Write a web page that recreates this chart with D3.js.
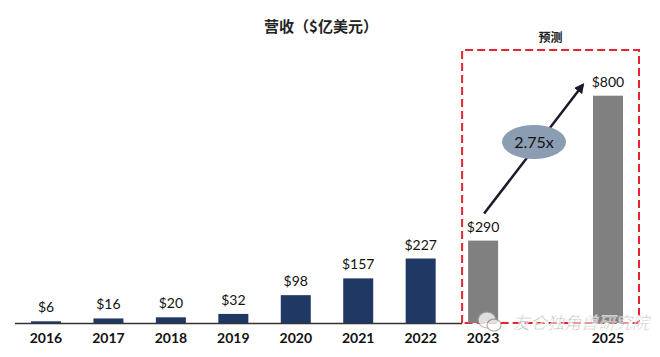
<!DOCTYPE html>
<html><head><meta charset="utf-8">
<script src="https://cdn.jsdelivr.net/npm/d3@7"></script>
<style>body{margin:0;background:#fff}svg{display:block}</style>
</head><body>
<svg id="c" width="660" height="357"></svg>
<script>
const years = [2016, 2017, 2018, 2019, 2020, 2021, 2022, 2023, 2025];
const revenue = [6, 16, 20, 32, 98, 157, 227, 290, 800];
const forecast = [false, false, false, false, false, false, false, true, true];
const valueLabels = ["$6", "$16", "$20", "$32", "$98", "$157", "$227", "$290", "$800"];
const title = "营收（$亿美元）";
const forecastLabel = "预测";
const multipleLabel = "2.75x";
const watermark = "友仑独角兽研究院";

const svg = d3.select("#c");
const x = d3.scaleLinear().domain([2016, 2025]).range([46, 608]);
const y = d3.scaleLinear().domain([0, 800]).range([323, 95.7]);
const bw = 30;
const latin = "Lato, 'Noto Sans', sans-serif";
const cjk = "'Noto Sans CJK SC', sans-serif";

svg.append("text").attr("x", 321).attr("y", 32).attr("text-anchor", "middle")
  .attr("font-family", cjk).attr("font-weight", 700).attr("font-size", 15).attr("fill", "#222").text(title);

// forecast box
const bx0 = x(2023) - 21, bx1 = x(2025) + 31;
svg.append("path")
  .attr("d", `M${bx0},${y(0)} L${bx0},50 L${bx1},50 L${bx1},${y(0)-3} Q${bx1},${y(0)} ${bx1-3},${y(0)} Z`)
  .attr("fill", "none").attr("stroke", "#e3262d").attr("stroke-width", 2).attr("stroke-dasharray", "8,4");
svg.append("text").attr("x", (bx0 + bx1) / 2).attr("y", 42).attr("text-anchor", "middle")
  .attr("font-family", cjk).attr("font-weight", 700).attr("font-size", 12).attr("fill", "#222").text(forecastLabel);

// axis line
svg.append("line").attr("x1", 15).attr("x2", bx0).attr("y1", y(0) + 0.5).attr("y2", y(0) + 0.5)
  .attr("stroke", "#333").attr("stroke-width", 1.5);

// bars
svg.selectAll("rect.bar").data(years).join("rect").attr("class", "bar")
  .attr("x", (d) => x(d) - bw / 2).attr("width", bw)
  .attr("y", (d, i) => y(revenue[i])).attr("height", (d, i) => y(0) - y(revenue[i]))
  .attr("fill", (d, i) => forecast[i] ? "#808080" : "#1f3864");

svg.selectAll("text.val").data(years).join("text").attr("class", "val")
  .attr("x", (d) => x(d)).attr("y", (d, i) => y(revenue[i]) - 9)
  .attr("text-anchor", "middle").attr("font-family", latin).attr("font-size", 14).attr("fill", "#111")
  .text((d, i) => valueLabels[i]);

svg.selectAll("text.yr").data(years).join("text").attr("class", "yr")
  .attr("x", (d) => x(d)).attr("y", 343)
  .attr("text-anchor", "middle").attr("font-family", latin).attr("font-weight", 700).attr("font-size", 14).attr("fill", "#111")
  .text((d) => d);

// arrow
const defs = svg.append("defs");
defs.append("marker").attr("id", "ah").attr("viewBox", "0 0 10 10").attr("refX", 8).attr("refY", 5)
  .attr("markerWidth", 4).attr("markerHeight", 4).attr("orient", "auto")
  .append("path").attr("d", "M0,0 L10,5 L0,10 Z").attr("fill", "#1a1a2a");
const ax0 = x(2023) + 1, ay0 = y(revenue[7]) - 27, ax1 = x(2025) - 25, ay1 = y(revenue[8]) - 11;
svg.append("line").attr("x1", ax0).attr("y1", ay0).attr("x2", ax1).attr("y2", ay1)
  .attr("stroke", "#1a1a2a").attr("stroke-width", 2.5).attr("marker-end", "url(#ah)");
const ex = 534, ey = 142;
svg.append("ellipse").attr("cx", ex).attr("cy", ey).attr("rx", 32).attr("ry", 17).attr("fill", "#8b9db3");
svg.append("text").attr("x", ex).attr("y", ey + 6).attr("text-anchor", "middle")
  .attr("font-family", latin).attr("font-size", 16).attr("fill", "#111").text(multipleLabel);

// watermark
const wm = svg.append("g").attr("opacity", 0.75);
wm.append("ellipse").attr("cx", 487).attr("cy", 320).attr("rx", 9).attr("ry", 8)
  .attr("fill", "#fff").attr("stroke", "#999").attr("stroke-width", 1.2);
wm.append("ellipse").attr("cx", 494).attr("cy", 325).attr("rx", 7).attr("ry", 6)
  .attr("fill", "#fff").attr("stroke", "#999").attr("stroke-width", 1.2);
wm.append("text").attr("x", 513).attr("y", 329).attr("font-family", cjk).attr("font-size", 17)
  .attr("fill", "#999").attr("stroke", "#fff").attr("stroke-width", 0.6).attr("font-style", "italic")
  .text(watermark);
</script>
</body></html>
